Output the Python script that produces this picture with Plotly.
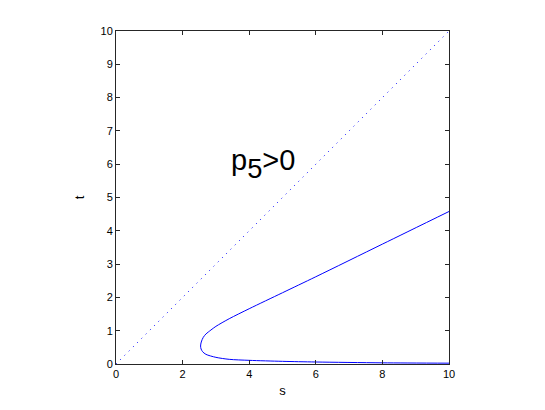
import plotly.graph_objects as go

# curve traced from the lower branch, through the turning point, to the upper branch
s_curve = [10, 8, 6, 5, 4, 3.4, 3.0, 2.7, 2.6, 2.555, 2.54, 2.56, 2.62, 2.7, 2.85, 3.0, 3.4, 4.0, 5.0, 6, 8, 10]
t_curve = [0.025, 0.035, 0.06, 0.08, 0.11, 0.14, 0.2, 0.29, 0.37, 0.45, 0.54, 0.66, 0.8, 0.9, 1.02, 1.13, 1.36, 1.66, 2.14, 2.62, 3.6, 4.58]

s_diag = [0, 10]
t_diag = [0, 10]

tick_vals_x = [0, 2, 4, 6, 8, 10]
tick_vals_y = list(range(11))

fig = go.Figure()
fig.add_trace(go.Scatter(x=s_diag, y=t_diag, mode='lines',
                         line=dict(color='#0000ff', width=1, dash='1px,5px')))
fig.add_trace(go.Scatter(x=s_curve, y=t_curve, mode='lines',
                         line=dict(color='#0000ff', width=1, shape='spline', smoothing=0.8)))

fig.add_annotation(x=4.4, y=6.0, showarrow=False,
                   text="p<span style='font-size:39px'><sub>5</sub></span>&gt;0",
                   font=dict(family='Liberation Sans, Arial', size=29, color='black'))

axis_style = dict(showgrid=False, zeroline=False, showline=True, linecolor='#262626',
                  linewidth=1, mirror='ticks', ticks='inside', ticklen=4,
                  tickcolor='#262626', tickfont=dict(size=11, color='black'),
                  automargin=False)

# page body has an 8px margin, so the figure is drawn 8px smaller
fig.update_layout(
    width=537, height=402,
    margin=dict(l=108, r=96, t=23, b=46),
    paper_bgcolor='white', plot_bgcolor='white',
    showlegend=False,
    font=dict(family='Liberation Sans, Arial', size=11, color='black'),
    xaxis=dict(range=[0, 10], tickvals=tick_vals_x, title=dict(text='s', standoff=6), **axis_style),
    yaxis=dict(range=[0, 10], tickvals=tick_vals_y, title=dict(text='t', standoff=12), **axis_style),
)

fig.write_html("out.html")
